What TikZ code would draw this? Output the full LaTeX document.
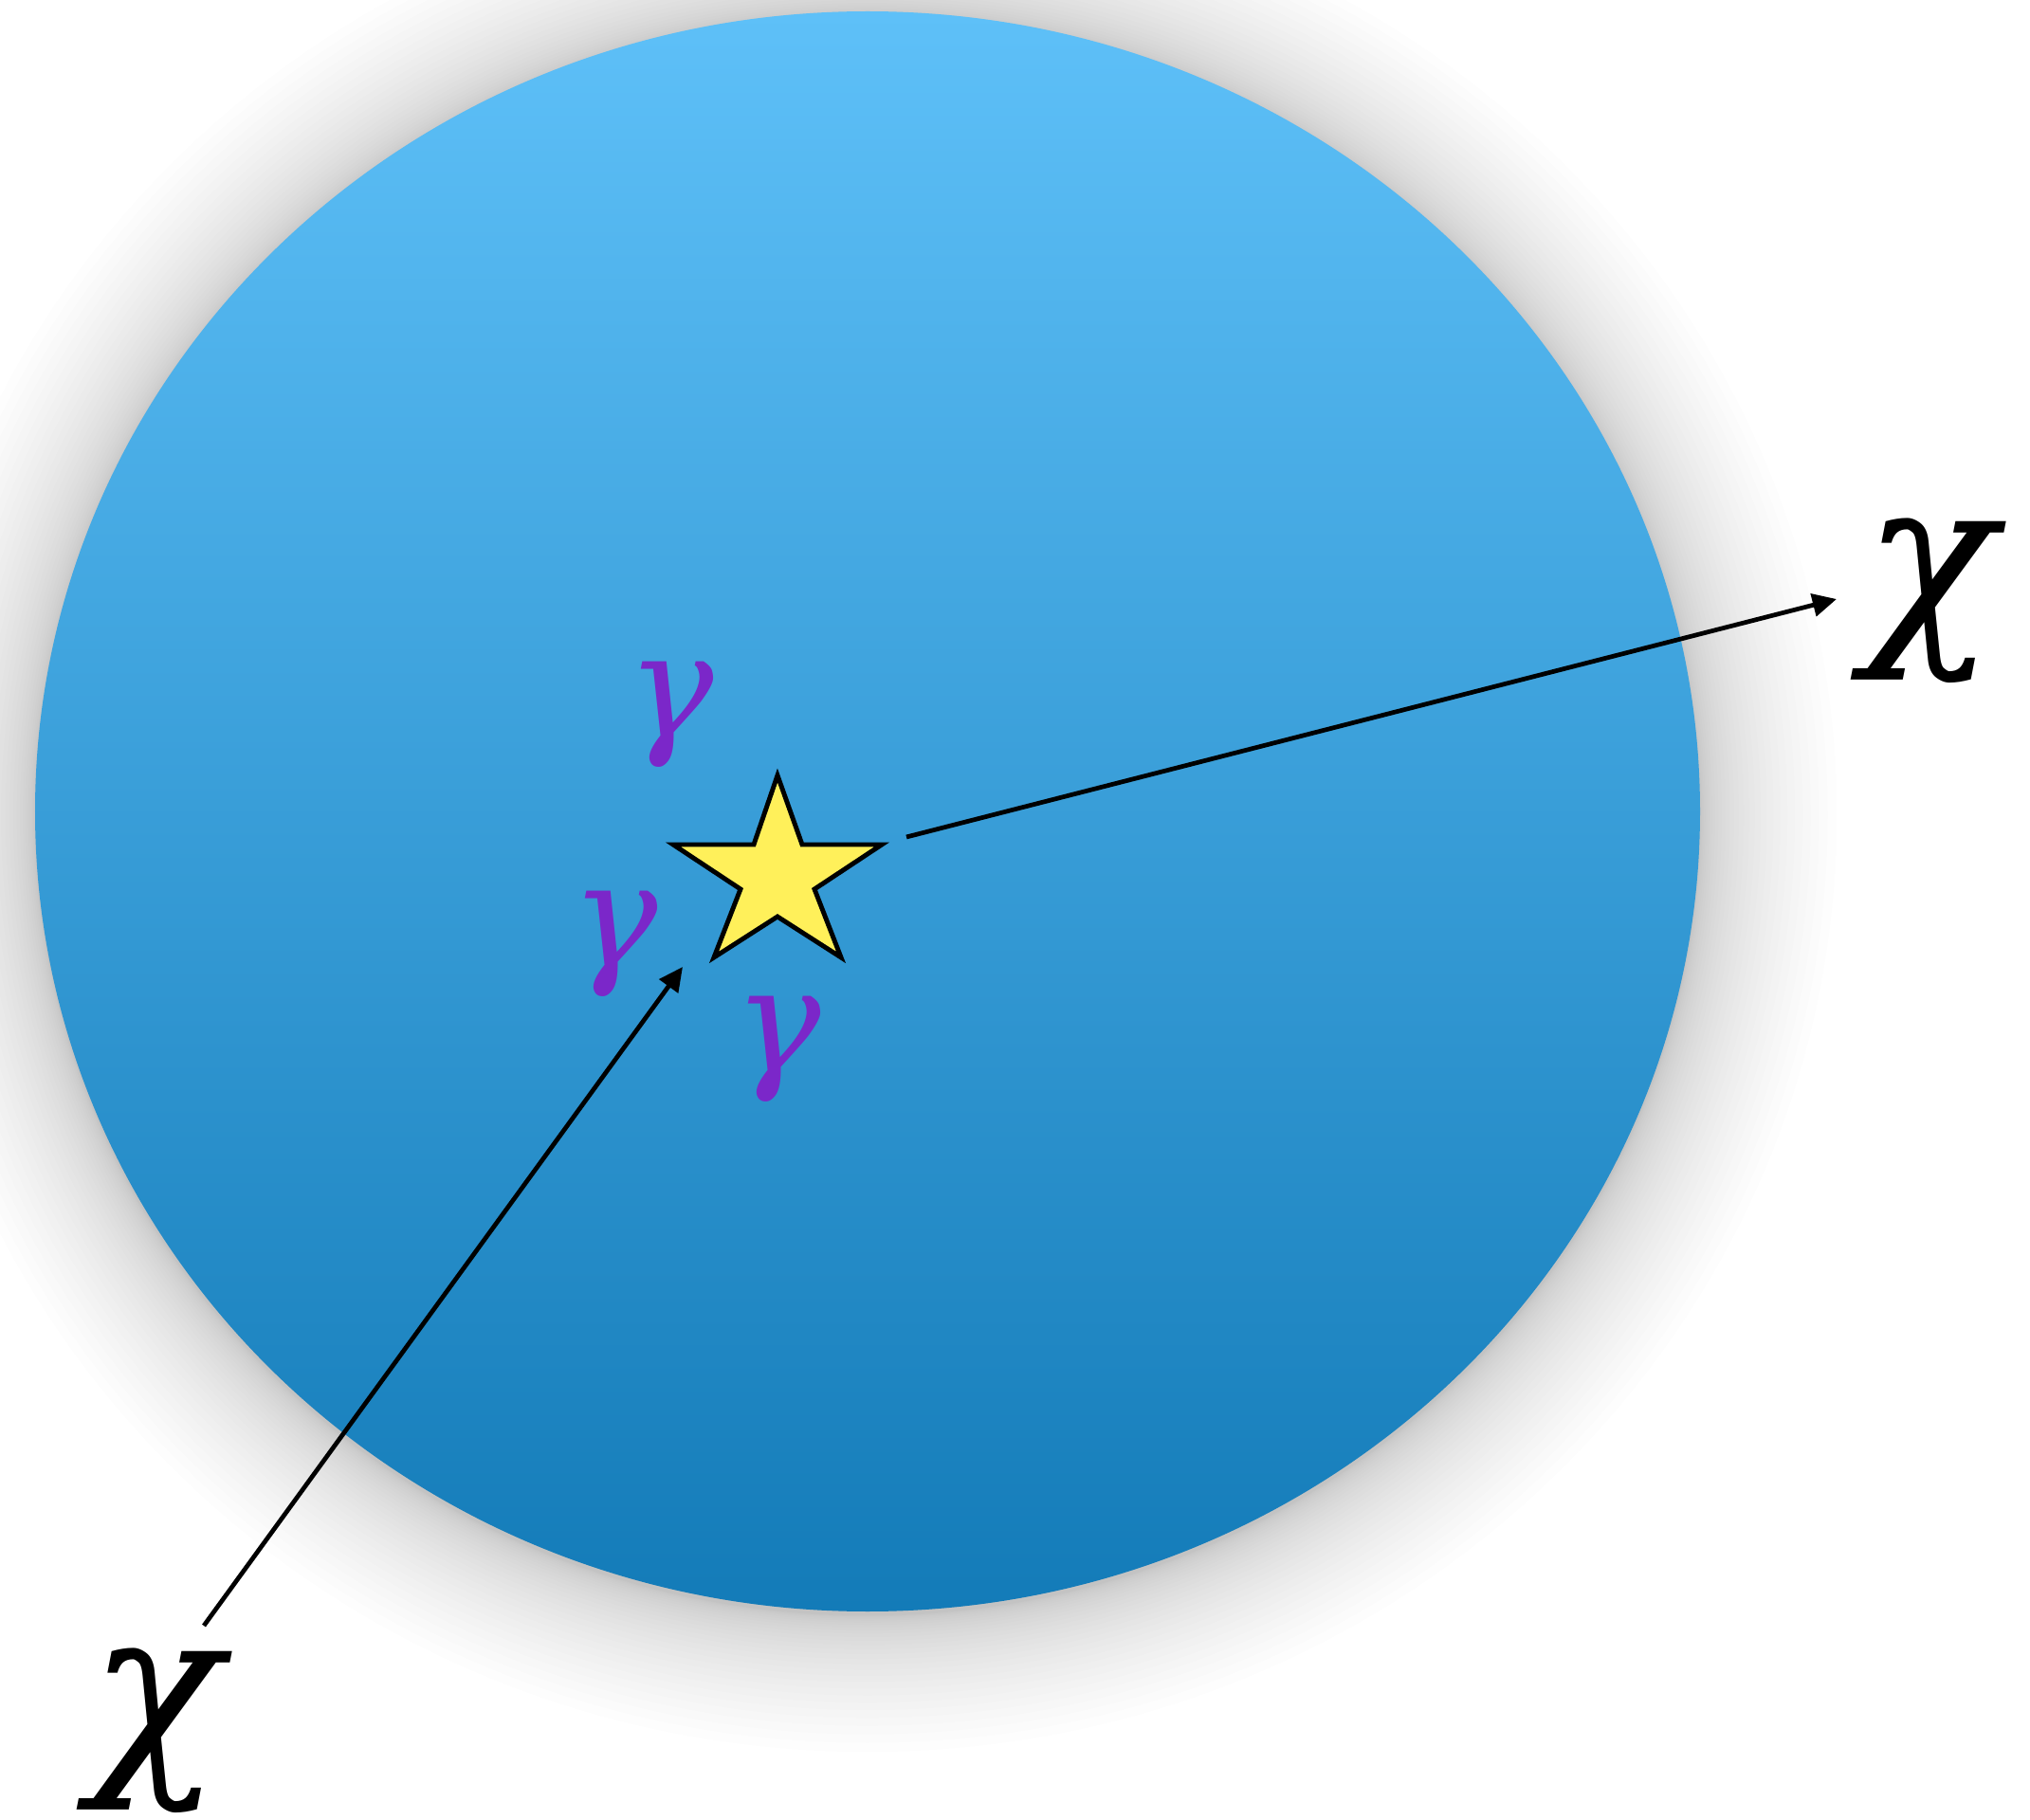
\documentclass[tikz,border=0pt]{standalone}
\usepackage{fontspec}
\setmainfont{Liberation Serif}
\newfontfamily\greekserif{DejaVu Serif}
\usetikzlibrary{arrows.meta}
\definecolor{bluetop}{HTML}{5EC0F8}
\definecolor{bluebot}{HTML}{137BB8}
\definecolor{starfill}{HTML}{FFF05A}
\definecolor{gampurple}{HTML}{7B27C9}
\tikzset{
  gamlbl/.style={inner sep=0pt, text=gampurple, font=\Huge\greekserif\itshape, scale=1.75},
  chilbl/.style={inner sep=0pt, text=black, font=\Huge\greekserif\itshape, scale=2.63},
  particle/.style={line width=1.35pt, -{Triangle[length=7.2pt,width=6.8pt]}},
}
\begin{document}
\begin{tikzpicture}
\useasboundingbox[fill=white] (0,0) rectangle (21.41,-19.2);
% soft shadow
\foreach \k in {1,...,30}{
  \pgfmathsetmacro{\ext}{0.0016*\k*\k}
  \fill[black, opacity=0.0075] (9.15,-8.60) ellipse ({8.78+\ext} and {8.44+\ext});
}
% medium sphere
\shade[top color=bluetop, bottom color=bluebot] (9.15,-8.56) ellipse (8.78 and 8.44);
% star
\draw[fill=starfill, line width=1.4pt, line join=miter]
  (8.20,-8.18) -- (8.46,-8.91) -- (9.30,-8.91) -- (8.59,-9.38) -- (8.87,-10.10)
  -- (8.20,-9.67) -- (7.53,-10.10) -- (7.81,-9.38) -- (7.10,-8.91) -- (7.95,-8.91) -- cycle;
% labels
\node[gamlbl] (g1) at (7.07,-7.54) {γ};
\node[gamlbl] (g2) at (6.48,-9.96) {γ};
\node[gamlbl] (g3) at (8.20,-11.07) {γ};
\node[chilbl] (chiout) at (20.35,-6.34) {χ};
\node[chilbl] (chiin) at (1.64,-18.26) {χ};
% connectors
\coordinate (inA) at (2.15,-17.15);
\coordinate (inB) at (7.20,-10.20);
\coordinate (outA) at (9.56,-8.83);
\coordinate (outB) at (19.37,-6.32);
\draw[particle] (inA) -- (inB);
\draw[particle] (outA) -- (outB);
\end{tikzpicture}
\end{document}
